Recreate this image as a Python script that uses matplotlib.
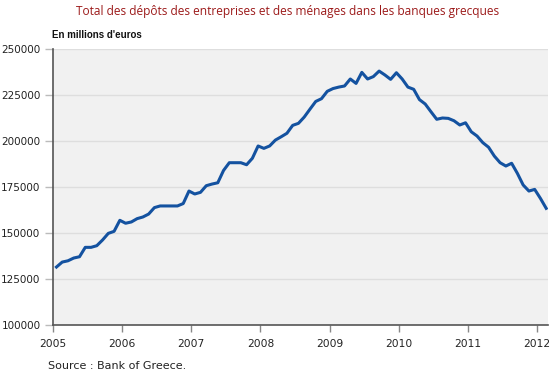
import numpy as np
import matplotlib.pyplot as plt

# monthly deposits, millions of euros, Jan 2005 .. Feb 2012
dep_2005 = [131500, 134200, 134900, 136400, 137100, 142200, 142200, 143100, 146200, 149800, 150900, 156900]
dep_2006 = [155300, 156000, 157800, 158700, 160300, 163800, 164700, 164700, 164700, 164700, 166000, 172800]
dep_2007 = [171200, 172100, 175700, 176600, 177300, 184000, 188200, 188200, 188200, 187100, 190600, 197300]
dep_2008 = [196000, 197300, 200500, 202300, 204200, 208500, 209600, 213000, 217300, 221500, 223000, 227000]
dep_2009 = [228500, 229300, 229900, 233700, 231300, 237300, 233700, 235000, 238000, 235900, 233500, 237100]
dep_2010 = [233700, 229300, 228100, 222500, 220100, 215900, 211800, 212500, 212300, 211000, 208700, 209900]
dep_2011 = [205000, 202700, 199100, 196600, 191800, 188200, 186400, 187900, 182400, 176100, 172800, 173700]
dep_2012 = [168800, 163400]

deposits = dep_2005 + dep_2006 + dep_2007 + dep_2008 + dep_2009 + dep_2010 + dep_2011 + dep_2012
years = [2005, 2006, 2007, 2008, 2009, 2010, 2011, 2012]
yticks = [100000, 125000, 150000, 175000, 200000, 225000, 250000]

# month position as fractional year
x = 2005 + (np.arange(len(deposits)) + 0.6) / 12

fig = plt.figure(figsize=(5.5, 3.74), dpi=100)
ax = fig.add_axes([53 / 550, 1 - 325 / 374, 495 / 550, 276 / 374])
ax.set_facecolor('#f1f1f1')

ax.plot(x, deposits, color='#1452a0', lw=2.2, zorder=3)

ax.set_xlim(2005, 2005 + 495 / 69.14)
ax.set_ylim(100000, 250000)
ax.set_xticks(years)
ax.set_xticklabels([str(y) for y in years])
ax.set_yticks(yticks)
ax.set_yticklabels([str(v) for v in yticks])

ax.yaxis.grid(True, color='#dedede', lw=1)
ax.set_axisbelow(True)
for s in ['top', 'right']:
    ax.spines[s].set_visible(False)
for s in ['left', 'bottom']:
    ax.spines[s].set_color('#555555')
    ax.spines[s].set_linewidth(1.2)
ax.tick_params(axis='y', length=6, width=1, color='#bbbbbb', pad=3, labelsize=7.5, labelcolor='#222222')
ax.tick_params(axis='x', length=5, width=1, color='#888888', pad=5, labelsize=7.7, labelcolor='#222222')

fig.text(288 / 550, 1 - 11 / 374, 'Total des dépôts des entreprises et des ménages dans les banques grecques',
         ha='center', va='center', color='#9c1a1a', fontsize=8.6, family='Open Sans', fontweight='medium')
fig.text(52 / 550, 1 - 35 / 374, "En millions d'euros", ha='left', va='center',
         fontsize=7, fontweight='bold', color='#111111', family='Liberation Sans')
fig.text(48 / 550, 1 - 366 / 374, 'Source : Bank of Greece.', ha='left', va='center',
         fontsize=8, color='#222222')

fig.savefig('out.png', dpi=100)
